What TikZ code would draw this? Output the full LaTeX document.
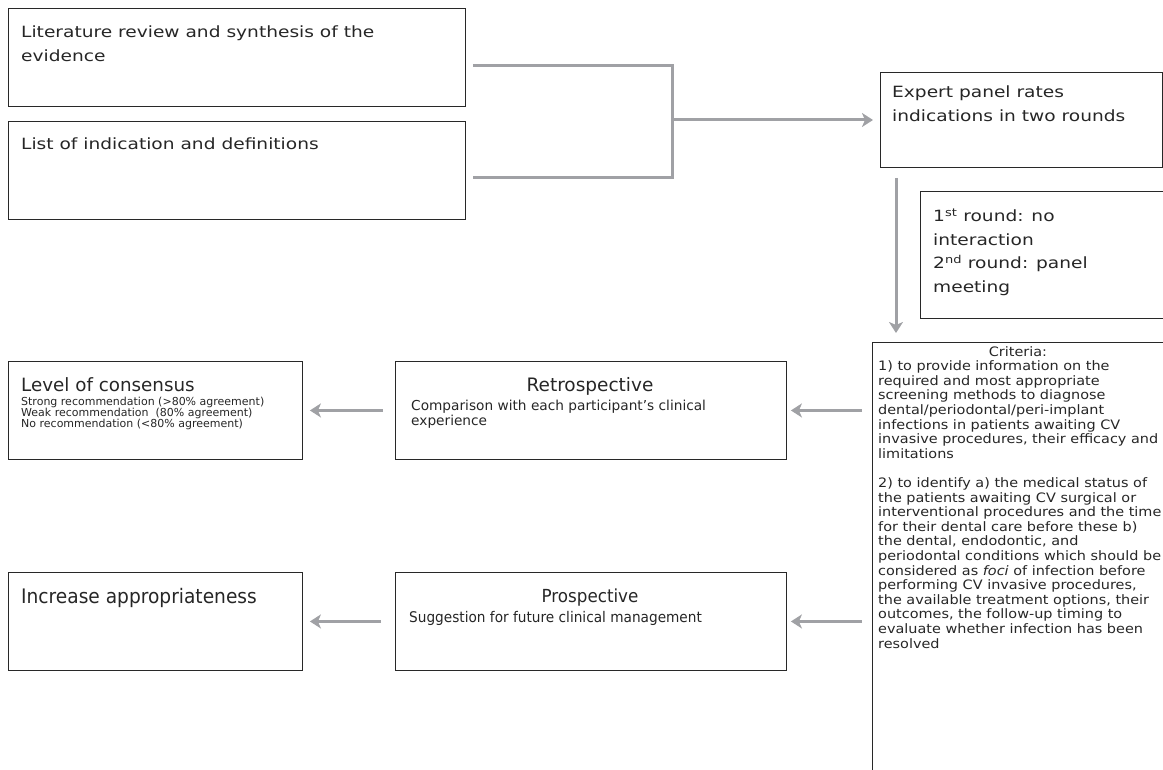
\documentclass[tikz,border=0pt]{standalone}
\usepackage{fontspec}
\setmainfont{DejaVu Sans}
\newfontfamily\widef[FakeStretch=1.2]{DejaVu Sans}
\newfontfamily\critf[FakeStretch=1.11]{DejaVu Sans}
\newfontfamily\narrowf[FakeStretch=0.93]{DejaVu Sans}
\usetikzlibrary{arrows.meta}
\definecolor{arrowgray}{RGB}{160,161,165}
\definecolor{boxline}{RGB}{40,40,40}
\tikzset{
  box/.style={draw=boxline, line width=0.9pt, inner sep=0pt, anchor=north west},
  conn/.style={draw=arrowgray, line width=3pt},
  arr/.style={conn, -{Stealth[length=11pt,width=14pt,inset=3pt]}},
  txt/.style={inner sep=0pt, anchor=base west, align=left, text=black!85},
  mainf/.style={font=\widef\fontsize{15.5}{24}\selectfont},
}
\begin{document}
\begin{tikzpicture}[x=1pt,y=-1pt]
\useasboundingbox (0,0) rectangle (1163,770);
% boxes
\node[box, minimum width=457pt, minimum height=98pt] (lit) at (8,8) {};
\node[box, minimum width=457pt, minimum height=98pt] (list) at (8,121) {};
\node[box, minimum width=282pt, minimum height=95pt] (expert) at (880,72) {};
\node[box, minimum width=260pt, minimum height=127pt] (round) at (920,191) {};
\node[box, minimum width=300pt, minimum height=440pt] (crit) at (872,342) {};
\node[box, minimum width=294pt, minimum height=98pt] (level) at (8,361) {};
\node[box, minimum width=391pt, minimum height=98pt] (retro) at (395,361) {};
\node[box, minimum width=294pt, minimum height=98pt] (incr) at (8,572) {};
\node[box, minimum width=391pt, minimum height=98pt] (prosp) at (395,572) {};
% texts (base anchor = baseline of the last line)
\node[txt, mainf] (litT) at (21,62) {Literature review and synthesis of the\\evidence};
\node[txt, mainf] (listT) at (21,150) {List of indication and definitions};
\node[txt, mainf] (expertT) at (892,122) {Expert panel rates\\indications in two rounds};
\node[txt, font=\widef\fontsize{15.5}{23.4}\selectfont] (roundT) at (933,292.2)
  {1\textsuperscript{st} round: no\\interaction\\2\textsuperscript{nd} round: panel\\meeting};
\node[txt, font=\fontsize{18.3}{22}\selectfont] (levelT) at (21,391) {Level of consensus};
\node[txt, font=\fontsize{11}{11}\selectfont] (levelS) at (21,427)
  {Strong recommendation (>80\% agreement)\\Weak recommendation \ (80\% agreement)\\No recommendation (<80\% agreement)};
\node[inner sep=0pt, anchor=base, font=\fontsize{18.5}{22}\selectfont, text=black!85] (retroT) at (590,391) {Retrospective};
\node[txt, font=\fontsize{13.7}{15}\selectfont] (retroS) at (411,425)
  {Comparison with each participant’s clinical\\experience};
\node[txt, font=\narrowf\fontsize{20}{24}\selectfont] (incrT) at (21,603) {Increase appropriateness};
\node[inner sep=0pt, anchor=base, font=\narrowf\fontsize{18}{22}\selectfont, text=black!85] (prospT) at (590,602) {Prospective};
\node[txt, font=\narrowf\fontsize{14.7}{16}\selectfont] (prospS) at (409,622)
  {Suggestion for future clinical management};
\node[inner sep=0pt, anchor=base, font=\critf\fontsize{13}{14.6}\selectfont, text=black!85] (critH) at (1018,356) {Criteria:};
\node[txt, font=\critf\fontsize{13}{14.6}\selectfont] (critT) at (878,648)
  {1) to provide information on the\\
   required and most appropriate\\
   screening methods to diagnose\\
   dental/periodontal/peri-implant\\
   infections in patients awaiting CV\\
   invasive procedures, their efficacy and\\
   limitations\\
   \mbox{}\\
   2) to identify a) the medical status of\\
   the patients awaiting CV surgical or\\
   interventional procedures and the time\\
   for their dental care before these b)\\
   the dental, endodontic, and\\
   periodontal conditions which should be\\
   considered as \textit{foci} of infection before\\
   performing CV invasive procedures,\\
   the available treatment options, their\\
   outcomes, the follow-up timing to\\
   evaluate whether infection has been\\
   resolved};
% connectors
\coordinate (join) at (672,120);
\draw[conn, line join=miter] ([xshift=7pt,yshift=-8pt]lit.east) -| (join) |- ([xshift=7pt,yshift=-7pt]list.east);
\draw[arr, shorten >=7pt] (join) -- (join -| expert.west);
\draw[arr, shorten <=10pt, shorten >=9pt] ([xshift=16pt]expert.south west) -- ([xshift=16pt]expert.south west |- crit.north);
\draw[arr, shorten <=10pt, shorten >=4pt] (retro.east -| crit.west) -- (retro.east);
\draw[arr, shorten <=12pt, shorten >=7pt] (retro.west) -- (level.east);
\draw[arr, shorten <=10pt, shorten >=4pt] (prosp.east -| crit.west) -- (prosp.east);
\draw[arr, shorten <=14pt, shorten >=7pt] (prosp.west) -- (incr.east);
\end{tikzpicture}
\end{document}
